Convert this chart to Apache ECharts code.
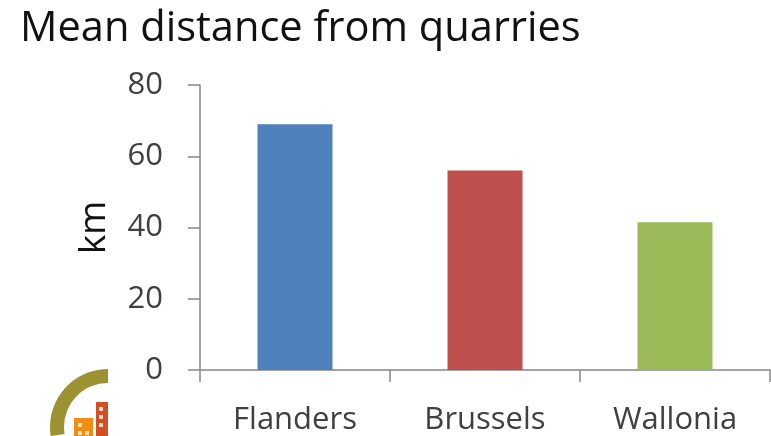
<!DOCTYPE html>
<html>
<head>
<meta charset="utf-8">
<style>html,body{margin:0;padding:0;background:#fff}#chart{width:771px;height:436px}</style>
<script src="https://cdn.jsdelivr.net/npm/echarts@6/dist/echarts.min.js"></script>
</head>
<body>
<div id="chart"></div>
<script>
const categories = ['Flanders', 'Brussels', 'Wallonia'];
const distances = [69, 56, 41.5];
const barColors = ['#4f81bd', '#c0504d', '#9bbb59'];
const yTicks = { min: 0, max: 80, interval: 20 };
const axisGray = '#868686';
const font = '"Open Sans", sans-serif';

const chart = echarts.init(document.getElementById('chart'), null, { renderer: 'canvas' });
chart.setOption({
  animation: false,
  backgroundColor: '#ffffff',
  title: {
    text: 'Mean distance from quarries',
    left: 15, top: 3,
    textStyle: { fontFamily: font, fontWeight: 'normal', fontSize: 41.6, color: '#111111' }
  },
  grid: { left: 200, right: 1, top: 85, bottom: 65 },
  xAxis: {
    type: 'category',
    data: categories,
    axisLine: { lineStyle: { color: axisGray, width: 1.5 } },
    axisTick: { show: true, length: 12, alignWithLabel: false, lineStyle: { color: axisGray, width: 1.5 } },
    axisLabel: { fontFamily: font, fontSize: 31, color: '#404040', margin: 35 }
  },
  yAxis: {
    type: 'value',
    min: yTicks.min, max: yTicks.max, interval: yTicks.interval,
    name: 'km',
    nameLocation: 'middle',
    nameRotate: 90,
    nameGap: 87,
    nameTextStyle: { fontFamily: font, fontSize: 37, color: '#111111' },
    splitLine: { show: false },
    axisLine: { show: true, lineStyle: { color: axisGray, width: 1.5 } },
    axisTick: { show: true, length: 12, lineStyle: { color: axisGray, width: 1.5 } },
    axisLabel: { fontFamily: font, fontSize: 31, color: '#404040', margin: 37 }
  },
  series: [{
    type: 'bar',
    barWidth: 75,
    data: distances.map((value, i) => ({ value, itemStyle: { color: barColors[i] } }))
  }],
  // Corner emblem: ring and buildings, cut off at its right edge
  graphic: [
    { type: 'sector', shape: { cx: 108, cy: 427, r: 58, r0: 44, startAngle: Math.PI * 0.95, endAngle: Math.PI * 1.5 }, style: { fill: '#9c9232' } },
    { type: 'rect', shape: { x: 74, y: 418, width: 19, height: 18 }, style: { fill: '#f08c14' } },
    { type: 'rect', shape: { x: 96, y: 402, width: 12, height: 34 }, style: { fill: '#d24f24' } },
    { type: 'rect', shape: { x: 78, y: 423, width: 4, height: 4 }, style: { fill: '#fbe3b0' } },
    { type: 'rect', shape: { x: 85, y: 431, width: 4, height: 4 }, style: { fill: '#fbe3b0' } },
    { type: 'rect', shape: { x: 78, y: 431, width: 4, height: 4 }, style: { fill: '#fbe3b0' } },
    { type: 'rect', shape: { x: 99, y: 407, width: 4, height: 4 }, style: { fill: '#f6d9c4' } },
    { type: 'rect', shape: { x: 99, y: 415, width: 4, height: 4 }, style: { fill: '#f6d9c4' } },
    { type: 'rect', shape: { x: 99, y: 423, width: 4, height: 4 }, style: { fill: '#f6d9c4' } }
  ]
});
</script>
</body>
</html>
